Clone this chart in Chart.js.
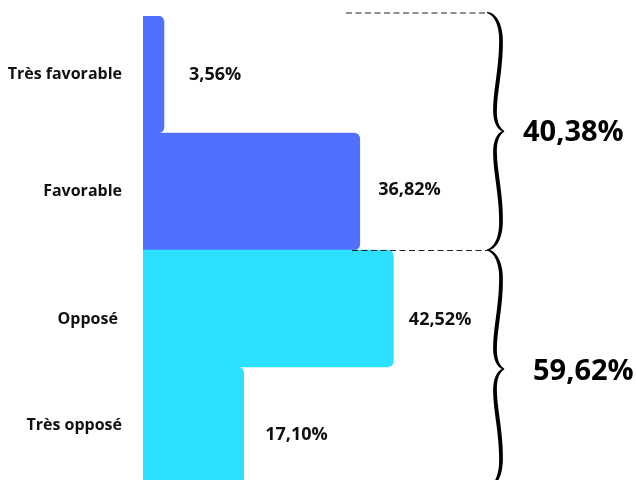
<!DOCTYPE html>
<html>
<head>
<meta charset="utf-8">
<script src="https://cdn.jsdelivr.net/npm/chart.js@4/dist/chart.umd.min.js"></script>
<style>
  html, body { margin: 0; padding: 0; background: #ffffff; overflow: hidden; }
  #wrap { position: relative; width: 636px; height: 490px; }
</style>
</head>
<body>
<div id="wrap"><canvas id="chart"></canvas></div>
<script>
// Survey answers, one bar per answer
const categories = ['Très favorable', 'Favorable', 'Opposé ', 'Très opposé'];
const shares = [3.56, 36.82, 42.52, 17.10];
// Answers summed under each brace: favourable side, opposed side
const groups = [[0, 1], [2, 3]];
const barColors = ['#5270FF', '#5270FF', '#2BE1FF', '#2BE1FF'];

const FONT = "'Open Sans', 'DejaVu Sans', sans-serif";
const INK = '#111111';
const fmt = v => v.toFixed(2).replace('.', ',') + '%';

// Percent text next to each bar end
const valueLabels = {
  id: 'valueLabels',
  afterDatasetsDraw(chart, args, opts) {
    const { ctx } = chart;
    const bars = chart.getDatasetMeta(0).data;
    ctx.save();
    ctx.fillStyle = INK;
    ctx.font = 'bold 18px ' + FONT;
    ctx.textAlign = 'left';
    ctx.textBaseline = 'middle';
    bars.forEach((bar, i) => {
      const v = chart.data.datasets[0].data[i];
      ctx.fillText(fmt(v), bar.x + opts.dx[i], bar.y + opts.dy[i]);
    });
    ctx.restore();
  }
};

// Calligraphic right curly brace between y0 and y1, ends at x0
function drawBrace(ctx, x0, y0, y1) {
  const h = (y1 - y0) / 2;
  const ym = y0 + h;
  const segs = [
    [[0, 0], [8, 0.01], [14, 0.10], [14, 0.24]],
    [[14, 0.24], [14, 0.48], [8, 0.66], [8, 0.83]],
    [[8, 0.83], [8, 0.93], [12, 0.985], [17, 1]]
  ];
  const half = [];
  const N = 30;
  segs.forEach((s, k) => {
    for (let j = (k === 0 ? 0 : 1); j <= N; j++) {
      const t = j / N, mt = 1 - t;
      const b = [mt * mt * mt, 3 * mt * mt * t, 3 * mt * t * t, t * t * t];
      let u = 0, v = 0;
      for (let q = 0; q < 4; q++) { u += b[q] * s[q][0]; v += b[q] * s[q][1]; }
      half.push([x0 + u, y0 + v * h]);
    }
  });
  const pts = half.slice();
  for (let i = half.length - 2; i >= 0; i--) {
    pts.push([half[i][0], ym + (ym - half[i][1])]);
  }
  const n = pts.length;
  const left = [], right = [];
  for (let i = 0; i < n; i++) {
    const a = pts[Math.max(0, i - 1)], c = pts[Math.min(n - 1, i + 1)];
    let tx = c[0] - a[0], ty = c[1] - a[1];
    const len = Math.hypot(tx, ty) || 1;
    tx /= len; ty /= len;
    const s = i / (n - 1);
    const local = s < 0.5 ? s * 2 : (1 - s) * 2;
    const w = 0.9 + 3.1 * Math.pow(Math.sin(Math.PI * local), 0.6);
    left.push([pts[i][0] - ty * w / 2, pts[i][1] + tx * w / 2]);
    right.push([pts[i][0] + ty * w / 2, pts[i][1] - tx * w / 2]);
  }
  ctx.beginPath();
  ctx.moveTo(left[0][0], left[0][1]);
  left.forEach(p => ctx.lineTo(p[0], p[1]));
  for (let i = n - 1; i >= 0; i--) ctx.lineTo(right[i][0], right[i][1]);
  ctx.closePath();
  ctx.fill();
}

// Braces, dashed guides and group totals on the right
const groupBraces = {
  id: 'groupBraces',
  afterDraw(chart, args, opts) {
    const { ctx, chartArea, scales } = chart;
    const y = scales.y;
    const band = (chartArea.bottom - chartArea.top) / categories.length;
    const data = chart.data.datasets[0].data;
    const split = y.getPixelForValue(groups[0][groups[0].length - 1]) + band / 2;
    const spans = [
      [chartArea.top - 3.5, split],
      [split, chartArea.bottom + 4]
    ];
    ctx.save();
    // dashed guides
    ctx.strokeStyle = '#222222';
    ctx.lineWidth = 1;
    ctx.setLineDash([6, 3.5]);
    ctx.beginPath();
    ctx.moveTo(opts.guideStart[0], spans[0][0] + 0.5);
    ctx.lineTo(opts.braceX, spans[0][0] + 0.5);
    ctx.moveTo(opts.guideStart[1], split + 0.5);
    ctx.lineTo(opts.braceX, split + 0.5);
    ctx.stroke();
    ctx.setLineDash([]);
    // braces
    ctx.fillStyle = '#000000';
    spans.forEach(sp => drawBrace(ctx, opts.braceX, sp[0], sp[1]));
    // totals
    ctx.fillStyle = '#000000';
    ctx.font = 'bold 29px ' + FONT;
    ctx.textAlign = 'left';
    ctx.textBaseline = 'middle';
    groups.forEach((g, k) => {
      const total = g.reduce((acc, i) => acc + data[i], 0);
      const mid = (spans[k][0] + spans[k][1]) / 2;
      ctx.fillText(fmt(total), opts.totalX[k], mid + opts.totalDy[k]);
    });
    ctx.restore();
  }
};

new Chart(document.getElementById('chart'), {
  type: 'bar',
  data: {
    labels: categories,
    datasets: [{
      data: shares,
      backgroundColor: barColors,
      borderRadius: 6,
      borderSkipped: 'start',
      categoryPercentage: 1,
      barPercentage: 1
    }]
  },
  options: {
    indexAxis: 'y',
    responsive: true,
    maintainAspectRatio: false,
    animation: false,
    layout: { padding: { top: 16, bottom: 6, left: 0, right: 22 } },
    scales: {
      x: { display: false, min: 0, max: 80 },
      y: {
        grid: { display: false, drawTicks: false },
        border: { display: false },
        ticks: {
          padding: 21,
          color: INK,
          font: { family: FONT, weight: 'bold', size: 16, lineHeight: 1.375 },
          callback(value, index) {
            const label = this.getLabelForValue(value);
            return index === 2 ? ['', label] : label;
          }
        },
        afterFit(scale) {
          // fixed gutter for the answer labels, no extra room above/below
          scale.width = 143;
          scale.paddingTop = 0;
          scale.paddingBottom = 0;
        }
      }
    },
    plugins: {
      legend: { display: false },
      tooltip: { enabled: false },
      valueLabels: { dx: [25, 18.5, 15.5, 21.5], dy: [0, -2, 11.5, 9.5] },
      groupBraces: { braceX: 487, guideStart: [346, 352], totalX: [523, 533], totalDy: [1, 3] }
    }
  },
  plugins: [valueLabels, groupBraces]
});
</script>
</body>
</html>
